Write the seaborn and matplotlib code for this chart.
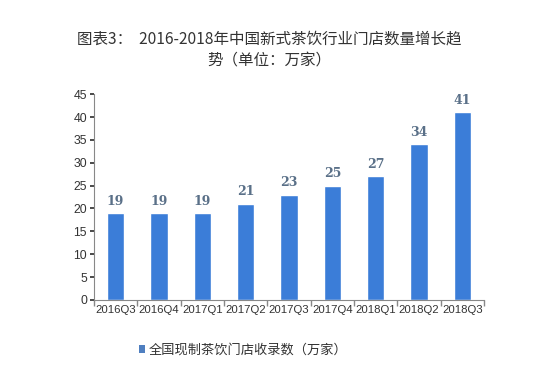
import matplotlib
matplotlib.use("Agg")
import matplotlib.pyplot as plt
import seaborn as sns
import pandas as pd
from matplotlib.patches import Patch

categories = ["2016Q3", "2016Q4", "2017Q1", "2017Q2", "2017Q3",
              "2017Q4", "2018Q1", "2018Q2", "2018Q3"]
values = [19, 19, 19, 21, 23, 25, 27, 34, 41]
series_name = "全国现制茶饮门店收录数（万家）"
title = "图表3：  2016-2018年中国新式茶饮行业门店数量增长趋\n势（单位：万家）"
yticks = [0, 5, 10, 15, 20, 25, 30, 35, 40, 45]

sns.set_theme(style="white")
plt.rcParams['font.family'] = ['Noto Sans CJK SC', 'DejaVu Sans']

df = pd.DataFrame({"quarter": categories, "count": values})

fig = plt.figure(figsize=(5.49, 3.86), dpi=100)
ax = fig.add_axes([0.171, 0.223, 0.711, 0.533])

bar_color = "#3b7dd8"
sns.barplot(data=df, x="quarter", y="count", color=bar_color, width=0.4,
            saturation=1, ax=ax)

for i, v in enumerate(values):
    ax.text(i, v + 1.2, str(v), ha="center", va="bottom", fontsize=9,
            fontweight="bold", color="#5a7088", family=['DejaVu Serif'])

ax.set_ylim(0, 45)
ax.set_xlim(-0.5, len(categories) - 0.5)
ax.set_yticks(yticks)
ax.set_xlabel("")
ax.set_ylabel("")

ax.tick_params(axis="y", colors="#333333", length=3,
               direction="out", left=True, pad=2)
ax.tick_params(axis="x", which="major", colors="#333333",
               length=0, pad=4)
ax.set_xticks([i - 0.5 for i in range(len(categories) + 1)], minor=True)
ax.tick_params(axis="x", which="minor", length=4, color="#888888",
               direction="out", bottom=True)
for lab in ax.get_xticklabels():
    lab.set_family(['Liberation Sans'])
    lab.set_fontsize(8.2)
for lab in ax.get_yticklabels():
    lab.set_family(['Liberation Sans'])
    lab.set_fontsize(8.8)

for s in ["top", "right"]:
    ax.spines[s].set_visible(False)
for s in ["left", "bottom"]:
    ax.spines[s].set_color("#888888")
    ax.spines[s].set_linewidth(0.8)

fig.text(0.49, 0.872, title, ha="center", va="center", fontsize=11.2,
         color="#333333", linespacing=1.25)

handle = Patch(facecolor="#4f7fc0", edgecolor="none")
fig.legend([handle], [series_name], loc="center", bbox_to_anchor=(0.443, 0.093),
           frameon=False, fontsize=9.5, handlelength=0.5, handleheight=0.5,
           handletextpad=0.3, labelcolor="#333333")

fig.savefig("out.png", dpi=100, facecolor="white")
